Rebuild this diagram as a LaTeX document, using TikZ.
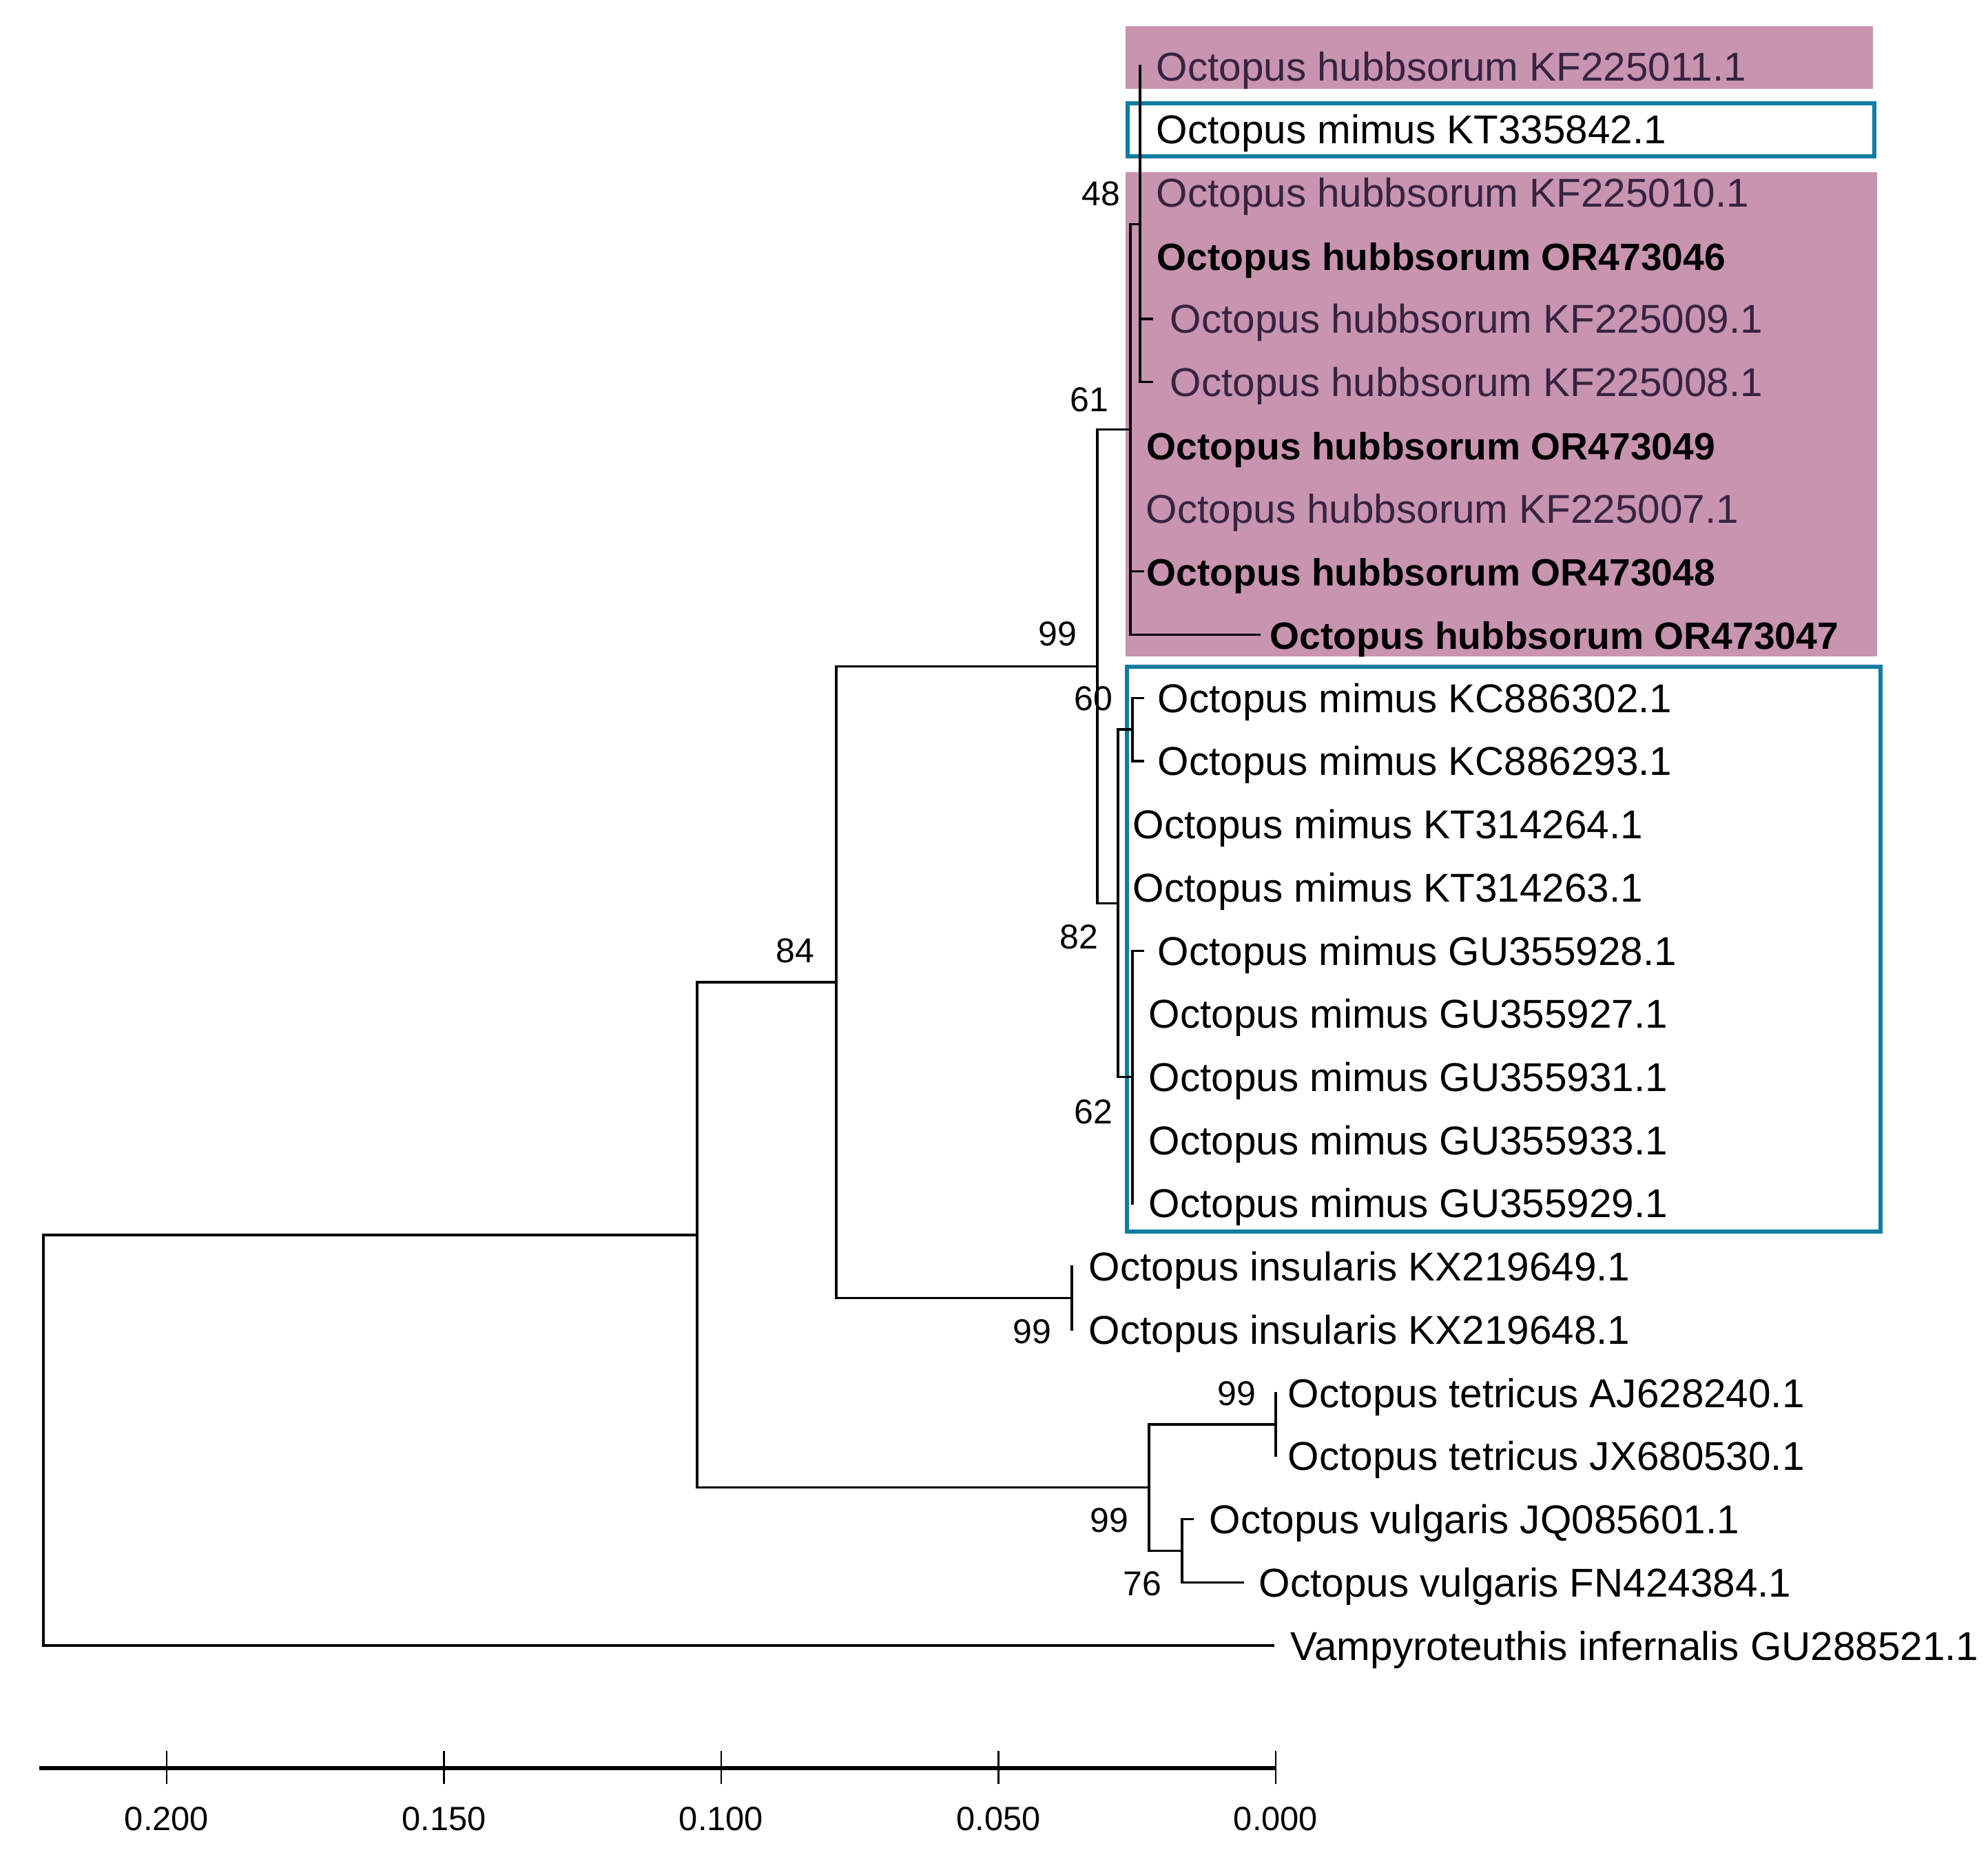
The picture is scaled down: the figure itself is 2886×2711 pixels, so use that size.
\documentclass[tikz,border=0pt]{standalone}
\usepackage{fontspec}
\setmainfont{Liberation Sans}
\definecolor{pinkbox}{RGB}{200,148,176}
\definecolor{bluebox}{RGB}{16,125,163}
\definecolor{hubtext}{RGB}{55,35,65}
\begin{document}
\begin{tikzpicture}[x=0.25pt,y=-0.25pt,
  br/.style={line width=0.8pt, line cap=rect},
  lab/.style={anchor=base west, inner sep=0pt, font=\fontsize{14.6}{17}\selectfont},
  hub/.style={lab, text=hubtext},
  boldlab/.style={anchor=base west, inner sep=0pt, font=\fontsize{13.8}{17}\selectfont\bfseries},
  bs/.style={inner sep=0pt, font=\fontsize{12.5}{15}\selectfont},
  sclab/.style={inner sep=0pt, font=\fontsize{12.2}{14}\selectfont},
  boxline/.style={draw=bluebox, line width=1.4pt}]
\useasboundingbox (0,0) rectangle (2886,2711);

% highlight boxes
\fill[pinkbox] (1634,38) rectangle (2719,129);
\fill[pinkbox] (1634,250) rectangle (2725,953);
\draw[boxline] (1637,150) rectangle (2721,227);
\draw[boxline] (1636,968) rectangle (2730,1788);

% internal nodes
\coordinate (R) at (63,2091);
\coordinate (A) at (1012,1792.9);
\coordinate (B) at (1214,1426);
\coordinate (D) at (1593,967.4);
\coordinate (E) at (1641,623.4);
\coordinate (N48) at (1655,325.3);
\coordinate (F) at (1623,1311.3);
\coordinate (G) at (1644,1059);
\coordinate (H) at (1644,1563.5);
\coordinate (I) at (1556,1884.6);
\coordinate (C) at (1668,2159.7);
\coordinate (T) at (1852,2068);
\coordinate (V) at (1716,2251.4);

% tips
\coordinate (t1) at (1655,96);
\coordinate (t2) at (1655,187.7);
\coordinate (t3) at (1655,279.4);
\coordinate (t4) at (1655,371.2);
\coordinate (t5) at (1672,462.9);
\coordinate (t6) at (1672,554.6);
\coordinate (t7) at (1641,646.3);
\coordinate (t8) at (1641,738.0);
\coordinate (t9) at (1659,829.8);
\coordinate (t10) at (1828,921.5);
\coordinate (t11) at (1659,1013.2);
\coordinate (t12) at (1659,1104.9);
\coordinate (t13) at (1623,1196.6);
\coordinate (t14) at (1623,1288.4);
\coordinate (t15) at (1659,1380.1);
\coordinate (t16) at (1644,1471.8);
\coordinate (t17) at (1644,1563.5);
\coordinate (t18) at (1644,1655.2);
\coordinate (t19) at (1644,1746.9);
\coordinate (t20) at (1556,1838.7);
\coordinate (t21) at (1556,1930.4);
\coordinate (t22) at (1852,2022.1);
\coordinate (t23) at (1852,2113.8);
\coordinate (t24) at (1731,2205.5);
\coordinate (t25) at (1804,2297.2);
\coordinate (t26) at (1848,2389);

% branches
\draw[br] (R) |- (A);
\draw[br] (R) |- (t26);
\draw[br] (A) |- (B);
\draw[br] (A) |- (C);
\draw[br] (B) |- (D);
\draw[br] (B) |- (I);
\draw[br] (D) |- (E);
\draw[br] (D) |- (F);
\draw[br] (E) |- (N48);
\foreach \t in {t7,t8,t9,t10} \draw[br] (E) |- (\t);
\foreach \t in {t1,t2,t3,t4,t5,t6} \draw[br] (N48) |- (\t);
\draw[br] (F) |- (G);
\draw[br] (F) |- (H);
\foreach \t in {t13,t14} \draw[br] (F) |- (\t);
\foreach \t in {t11,t12} \draw[br] (G) |- (\t);
\foreach \t in {t15,t16,t17,t18,t19} \draw[br] (H) |- (\t);
\foreach \t in {t20,t21} \draw[br] (I) |- (\t);
\draw[br] (C) |- (T);
\draw[br] (C) |- (V);
\foreach \t in {t22,t23} \draw[br] (T) |- (\t);
\foreach \t in {t24,t25} \draw[br] (V) |- (\t);

% leaf labels
\node[hub] (L1) at (1678,117) {Octopus hubbsorum KF225011.1};
\node[lab] (L2) at (1678,208.7) {Octopus mimus KT335842.1};
\node[hub] (L3) at (1678,300.4) {Octopus hubbsorum KF225010.1};
\node[boldlab] (L4) at (1679,392.2) {Octopus hubbsorum OR473046};
\node[hub] (L5) at (1698,483.9) {Octopus hubbsorum KF225009.1};
\node[hub] (L6) at (1698,575.6) {Octopus hubbsorum KF225008.1};
\node[boldlab] (L7) at (1664,667.3) {Octopus hubbsorum OR473049};
\node[hub] (L8) at (1663,759.0) {Octopus hubbsorum KF225007.1};
\node[boldlab] (L9) at (1664,850.8) {Octopus hubbsorum OR473048};
\node[boldlab] (L10) at (1843,942.5) {Octopus hubbsorum OR473047};
\node[lab] (L11) at (1680,1034.2) {Octopus mimus KC886302.1};
\node[lab] (L12) at (1680,1125.9) {Octopus mimus KC886293.1};
\node[lab] (L13) at (1644,1217.6) {Octopus mimus KT314264.1};
\node[lab] (L14) at (1644,1309.4) {Octopus mimus KT314263.1};
\node[lab] (L15) at (1680,1401.1) {Octopus mimus GU355928.1};
\node[lab] (L16) at (1667,1492.8) {Octopus mimus GU355927.1};
\node[lab] (L17) at (1667,1584.5) {Octopus mimus GU355931.1};
\node[lab] (L18) at (1667,1676.2) {Octopus mimus GU355933.1};
\node[lab] (L19) at (1667,1767.9) {Octopus mimus GU355929.1};
\node[lab] (L20) at (1580,1859.7) {Octopus insularis KX219649.1};
\node[lab] (L21) at (1580,1951.4) {Octopus insularis KX219648.1};
\node[lab] (L22) at (1869,2043.1) {Octopus tetricus AJ628240.1};
\node[lab] (L23) at (1869,2134.8) {Octopus tetricus JX680530.1};
\node[lab] (L24) at (1755,2226.5) {Octopus vulgaris JQ085601.1};
\node[lab] (L25) at (1827,2318.2) {Octopus vulgaris FN424384.1};
\node[lab] (L26) at (1873,2410) {Vampyroteuthis infernalis GU288521.1};

% bootstrap values
\node[bs] (b48) at (1598,281) {48};
\node[bs] (b61) at (1581,580) {61};
\node[bs] (b99a) at (1535,920) {99};
\node[bs] (b60) at (1587,1014) {60};
\node[bs] (b82) at (1566,1360) {82};
\node[bs] (b62) at (1587,1614) {62};
\node[bs] (b84) at (1154,1380) {84};
\node[bs] (b99b) at (1498,1933) {99};
\node[bs] (b99c) at (1795,2023) {99};
\node[bs] (b99d) at (1610,2207) {99};
\node[bs] (b76) at (1658,2299) {76};

% scale bar
\coordinate (s0) at (57,2567);
\coordinate (s1) at (1852,2567);
\draw[line width=1.3pt] (s0) -- (s1);
\foreach \x/\v [count=\k] in {242/0.200, 644.5/0.150, 1047/0.100, 1449.5/0.050, 1852/0.000} {
  \coordinate (tk\k) at (\x,2542);
  \coordinate (tb\k) at (\x,2590);
  \draw[line width=0.7pt] (tk\k) -- (tb\k);
  \node[sclab] (sl\k) at (\x,2641) {\v};
}
\end{tikzpicture}
\end{document}
